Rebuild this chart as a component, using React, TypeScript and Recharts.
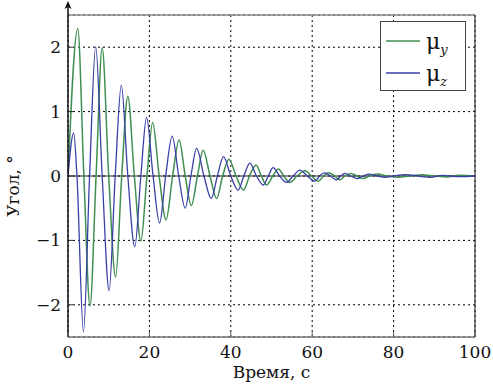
import React from "react";
import { LineChart, Line, XAxis, YAxis, CartesianGrid, ReferenceLine } from "recharts";

// μ_y (green) — time (s), angle (°)
const muYTime = [0, 2.4, 3.9, 5.4, 6.9, 8.4, 10.0, 11.7, 13.2, 14.7, 16.3, 17.9, 19.4, 20.8, 22.4, 24.1, 25.7, 27.3, 28.8, 30.3, 31.8, 33.2, 34.9, 36.5, 38.0, 39.5, 41.3, 43.1, 44.6, 46.2, 47.5, 48.8, 50.3, 51.7, 53.0, 54.5, 56.3, 58.2, 59.8, 61.5, 62.8, 64.0, 65.5, 66.8, 68.0, 69.5, 71.0, 72.5, 74.0, 76.0, 78.5, 81.0, 84.0, 87.0, 90.0, 93.0, 96.0, 100];
const muYVal = [0, 2.29, 0, -2.02, 0, 1.99, 0, -1.57, 0, 1.24, 0, -1.01, 0, 0.83, 0, -0.68, 0, 0.56, 0, -0.46, 0, 0.40, 0, -0.35, 0, 0.26, 0, -0.22, 0, 0.17, 0, -0.14, 0, 0.11, 0, -0.10, 0, 0.08, 0, -0.08, 0, 0.05, 0, -0.06, 0, 0.04, 0, -0.04, 0, 0.03, 0, -0.02, 0, 0.02, 0, -0.015, 0.01, 0];

// μ_z (blue)
const muZTime = [0, 1.4, 2.2, 3.8, 5.3, 6.8, 8.4, 10.1, 11.6, 13.1, 14.7, 16.4, 17.9, 19.3, 20.9, 22.5, 24.0, 25.6, 27.2, 28.8, 30.2, 31.6, 33.4, 35.2, 36.7, 38.2, 40.0, 41.8, 43.2, 44.7, 46.3, 48.0, 49.2, 50.4, 52.0, 53.7, 55.3, 57.0, 58.8, 60.7, 61.8, 63.0, 64.5, 66.0, 67.0, 68.0, 69.5, 71.0, 72.5, 74.0, 76.0, 78.0, 80.0, 83.0, 86.0, 89.0, 92.0, 96.0, 100];
const muZVal = [0, 0.67, 0, -2.42, 0, 2.01, 0, -1.78, 0, 1.41, 0, -1.10, 0, 0.91, 0, -0.73, 0, 0.62, 0, -0.50, 0, 0.43, 0, -0.35, 0, 0.30, 0, -0.22, 0, 0.20, 0, -0.14, 0, 0.13, 0, -0.10, 0, 0.09, 0, -0.08, 0, 0.05, 0, -0.06, 0, 0.04, 0, -0.04, 0, 0.03, 0, -0.02, 0, 0.02, 0, -0.02, 0.01, -0.01, 0];

const xTicks = [0, 20, 40, 60, 80, 100];
const yTicks = [-2, -1, 0, 1, 2];

const seriesY = muYTime.map((t, i) => ({ t, v: muYVal[i] }));
const seriesZ = muZTime.map((t, i) => ({ t, v: muZVal[i] }));

const FONT = "DejaVu Serif";
const GREEN = "#3f8f52";
const BLUE = "#3a3fa6";
const txt = { fontFamily: FONT };
const FS = 17;

const XTick = (props: any) => {
  const { x, y, payload } = props;
  return (
    <g>
      <line x1={x} y1={y} x2={x} y2={y - 5} stroke="#666" strokeWidth={1} />
      <text x={x} y={y + 21} textAnchor="middle" style={txt} fontSize={FS} fill="#111">
        {payload.value}
      </text>
    </g>
  );
};

const YTick = (props: any) => {
  const { x, y, payload } = props;
  const v = payload.value as number;
  const label = v < 0 ? "\u2212" + Math.abs(v) : String(v);
  return (
    <g>
      <line x1={x} y1={y} x2={x + 5} y2={y} stroke="#333" strokeWidth={1} />
      <text x={x - 7} y={y + 6} textAnchor="end" style={txt} fontSize={FS} fill="#111">
        {label}
      </text>
    </g>
  );
};

const XLabel = (props: any) => {
  const vb = props.viewBox || {};
  const cx = (vb.x ?? 68) + (vb.width ?? 407) / 2;
  return (
    <text x={cx} y={378} textAnchor="middle" style={txt} fontSize={FS} fill="#111">
      Время, с
    </text>
  );
};

const YLabel = () => (
  <text x={19} y={186} transform="rotate(-90 19 186)" textAnchor="middle" style={txt} fontSize={FS} fill="#111">
    Угол, °
  </text>
);

export default function App() {
  return (
    <div style={{ position: "absolute", left: 0, top: 0, width: 493, height: 384, background: "#fff" }}>
      <LineChart width={493} height={384} margin={{ top: 15, right: 18, bottom: 0, left: 0 }}>
        <CartesianGrid stroke="#000" strokeDasharray="2 3" strokeWidth={1} />
        <XAxis
          type="number"
          dataKey="t"
          domain={[0, 100]}
          ticks={xTicks}
          allowDataOverflow
          height={47}
          tickSize={0}
          tickMargin={0}
          tick={<XTick />}
          axisLine={{ stroke: "#777", strokeWidth: 1.5 }}
          tickLine={false}
          label={<XLabel />}
        />
        <YAxis
          type="number"
          dataKey="v"
          domain={[-2.5, 2.5]}
          ticks={yTicks}
          allowDataOverflow
          width={68}
          tickSize={0}
          tickMargin={0}
          tick={<YTick />}
          axisLine={{ stroke: "#111", strokeWidth: 1.5 }}
          tickLine={false}
          label={<YLabel />}
        />
        <ReferenceLine y={2.5} stroke="#888" strokeWidth={1.5} />
        <ReferenceLine x={100} stroke="#333" strokeWidth={1.2} />
        <ReferenceLine y={0} stroke="#222" strokeWidth={1.2} />
        <Line data={seriesY} dataKey="v" type="monotone" stroke={GREEN} strokeWidth={1.5} dot={false} isAnimationActive={false} name="μy" />
        <Line data={seriesZ} dataKey="v" type="monotone" stroke={BLUE} strokeWidth={1.3} dot={false} isAnimationActive={false} name="μz" />
      </LineChart>
      <svg width={493} height={384} style={{ position: "absolute", left: 0, top: 0, pointerEvents: "none" }}>
        <line x1={68} y1={15} x2={68} y2={3} stroke="#111" strokeWidth={1.5} />
        <path d="M68,1 L64.5,9 L68,7 L71.5,9 Z" fill="#111" />
      </svg>
      <div
        style={{
          position: "absolute",
          left: 380,
          top: 21,
          width: 86,
          height: 70,
          boxSizing: "border-box",
          border: "1px solid #444",
          background: "#fff",
        }}
      >
        <svg width={84} height={68} style={{ display: "block" }}>
          <line x1={5} y1={19} x2={39} y2={19} stroke={GREEN} strokeWidth={1.5} />
          <text x={45} y={27} style={txt} fontSize={22} fill="#111">
            μ<tspan fontSize={13} fontStyle="italic" dy={5}>y</tspan>
          </text>
          <line x1={5} y1={51} x2={39} y2={51} stroke={BLUE} strokeWidth={1.3} />
          <text x={45} y={59} style={txt} fontSize={22} fill="#111">
            μ<tspan fontSize={13} fontStyle="italic" dy={5}>z</tspan>
          </text>
        </svg>
      </div>
    </div>
  );
}
